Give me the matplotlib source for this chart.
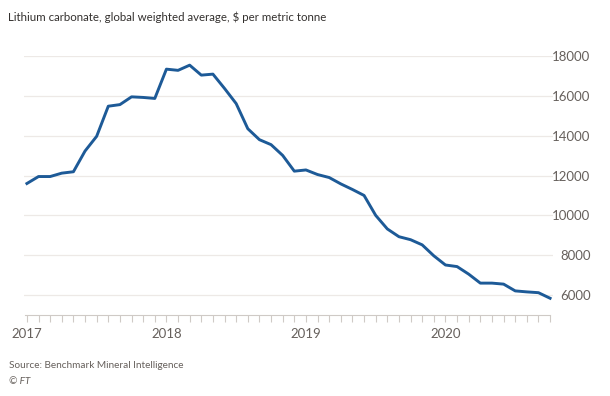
import matplotlib.pyplot as plt

plt.rcParams['font.family'] = ['Lato', 'DejaVu Sans']

# monthly prices, Jan 2017 - Oct 2020
years = ['2017', '2018', '2019', '2020']
prices = [11600, 11950, 11950, 12120, 12190, 13230, 13970, 15480, 15560, 15950, 15920, 15870,
          17340, 17280, 17540, 17040, 17090, 16370, 15610, 14350, 13800, 13550, 13010, 12220,
          12280, 12050, 11900, 11580, 11300, 11000, 10000, 9320, 8930, 8780, 8520, 7970,
          7510, 7430, 7050, 6600, 6600, 6550, 6210, 6160, 6120, 5840]
yticks = [6000, 8000, 10000, 12000, 14000, 16000, 18000]

months = list(range(len(prices)))
grey = '#66605c'

fig = plt.figure(figsize=(6.1, 3.96), dpi=100)
ax = fig.add_axes([24 / 610, 1 - 315 / 396, 529 / 610, 259 / 396])

ax.plot(months, prices, color='#1d5a97', lw=2.1, solid_joinstyle='round', clip_on=False, zorder=3)

ax.set_xlim(-0.25, 45.25)
ax.set_ylim(5000, 18000)

ax.set_yticks(yticks)
ax.set_yticklabels([str(v) for v in yticks])
ax.yaxis.tick_right()
ax.tick_params(axis='y', length=0, pad=27, labelsize=9.5, labelcolor=grey)
for t in ax.get_yticklabels():
    t.set_horizontalalignment('right')
ax.grid(axis='y', color='#ede9e6', lw=0.9)

ax.set_xticks([0, 12, 24, 36])
ax.set_xticklabels(years)
ax.set_xticks(months, minor=True)
ax.tick_params(axis='x', which='both', length=5, width=0.8, color='#cfcac6',
               labelsize=9.5, labelcolor=grey, pad=4)

for s in ['top', 'left', 'right']:
    ax.spines[s].set_visible(False)
ax.spines['bottom'].set_color('#cfcac6')
ax.spines['bottom'].set_linewidth(0.8)
ax.spines['bottom'].set_bounds(-0.2, 45)

fig.text(8 / 610, 1 - 17 / 396, 'Lithium carbonate, global weighted average, $ per metric tonne',
         fontsize=8.3, color='#33302e', va='center')
fig.text(9 / 610, 1 - 366 / 396, 'Source: Benchmark Mineral Intelligence',
         fontsize=7.2, color=grey, va='center')
fig.text(9 / 610, 1 - 381 / 396, '© FT', fontsize=7.2, color=grey, va='center', style='italic')

fig.savefig('out.png', dpi=100, facecolor='white')
